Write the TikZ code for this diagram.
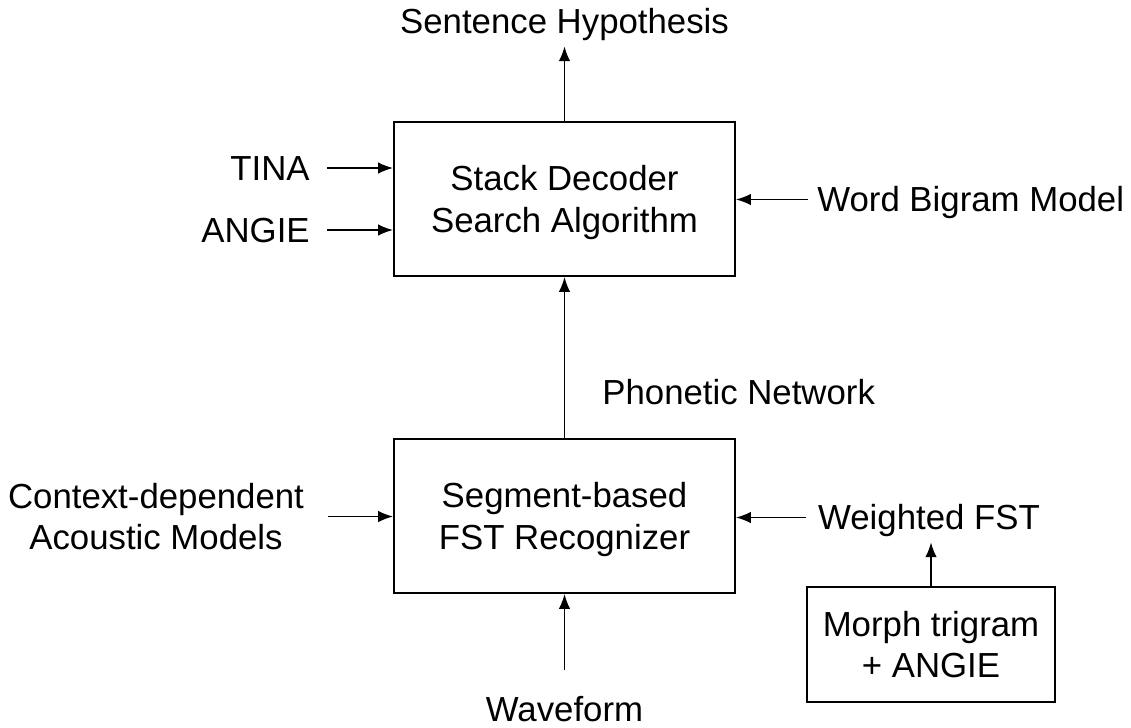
\documentclass[tikz,border=0pt]{standalone}
\usepackage{fontspec}
\setmainfont{Liberation Sans}
\usetikzlibrary{arrows.meta}
\tikzset{
  blk/.style={draw,line width=1.1pt,align=center,text depth=0pt,inner sep=0pt},
  lbl/.style={inner sep=0pt,text height=14.2pt,text depth=0pt},
  arr/.style={-{Latex[length=8.5pt,width=6.6pt]},line width=1pt},
}
\begin{document}
\begin{tikzpicture}[x=0.02cm,y=-0.02cm,font=\fontsize{19.8}{23.5}\selectfont]
    \useasboundingbox (0,0) rectangle (1131,727);
    % the two search blocks
    \node (stack)[blk,minimum width=6.82cm,minimum height=3.08cm] at (564.5,199) {Stack Decoder\\Search Algorithm};
    \node (seg)[blk,minimum width=6.82cm,minimum height=3.08cm] at (564.5,516) {Segment-based\\FST Recognizer};
    \node (morph)[blk,minimum width=4.96cm,minimum height=2.3cm] at (931,644.5) {Morph trigram\\+ ANGIE};
    % labels
    \node (sent)[lbl] at (564.5,21.5) {Sentence Hypothesis};
    \node (tina)[lbl,anchor=east] at (310,168) {TINA};
    \node (angie)[lbl,anchor=east] at (310,230) {ANGIE};
    \node (bigram)[lbl,anchor=west] at (817,199.5) {Word Bigram Model};
    \node (phon)[lbl,anchor=west] at (602,392.5) {Phonetic Network};
    \node (ctx)[align=center,inner sep=0pt,text depth=0pt] at (156,516.5) {Context-dependent\\Acoustic Models};
    \node (wfst)[lbl] at (929,517.5) {Weighted FST};
    \node (wave)[lbl] at (564.5,709) {Waveform};
    % connectors
    \draw[arr,shorten >=6.8pt] (stack.north) -- (stack.north |- sent.south);
    \draw[arr,shorten <=9.6pt] (tina.east) -- (tina.east -| stack.west);
    \draw[arr,shorten <=9.6pt] (angie.east) -- (angie.east -| stack.west);
    \draw[arr,shorten <=5pt] (bigram.west) -- (bigram.west -| stack.east);
    \draw[arr] (seg.north) -- (stack.south);
    \draw[arr,shorten <=13.6pt] (ctx.east) -- (ctx.east -| seg.west);
    \draw[arr,shorten <=6.8pt] (wfst.west) -- (wfst.west -| seg.east);
    \draw[arr,shorten >=6.8pt] (morph.north) -- (morph.north |- wfst.south);
    \draw[arr,shorten <=15pt] (wave.north) -- (wave.north |- seg.south);
\end{tikzpicture}
\end{document}
